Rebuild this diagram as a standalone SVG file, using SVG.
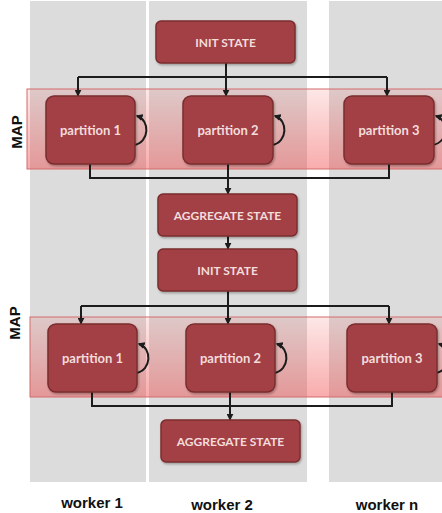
<svg xmlns="http://www.w3.org/2000/svg" width="442" height="513" viewBox="0 0 442 513">
  <defs>
    <linearGradient id="bandFill" x1="0" y1="0" x2="0" y2="1">
      <stop offset="0" stop-color="#f03a3a" stop-opacity="0.12"/>
      <stop offset="1" stop-color="#f03a3a" stop-opacity="0.42"/>
    </linearGradient>
    <filter id="shadow" x="-10%" y="-10%" width="130%" height="140%">
      <feDropShadow dx="1" dy="1.5" stdDeviation="1.2" flood-color="#000" flood-opacity="0.3"/>
    </filter>
    <marker id="arrow" viewBox="0 0 10 10" refX="9" refY="5" markerWidth="7" markerHeight="7" markerUnits="userSpaceOnUse" orient="auto">
      <path d="M0,0 L10,5 L0,10 Z" fill="#1c1c1c"/>
    </marker>
    <marker id="loopArrow" viewBox="0 0 10 10" refX="8" refY="5" markerWidth="7" markerHeight="7" markerUnits="userSpaceOnUse" orient="auto">
      <path d="M0,0 L10,5 L0,10 Z" fill="#1c1c1c"/>
    </marker>
  </defs>
  <style>
    .col { fill: #dcdcdc; }
    .band { fill: url(#bandFill); stroke: #d46a6c; stroke-width: 1; }
    .box { fill: #a34044; stroke: #7b2b2e; stroke-width: 1.5; filter: url(#shadow); }
    .lbl { font-family: Lato, "Open Sans", "Liberation Sans", sans-serif; font-weight: bold; fill: #f2dcdc; text-anchor: middle; }
    .state { font-size: 12px; }
    .part { font-size: 13px; }
    .edge { fill: none; stroke: #1c1c1c; stroke-width: 2; }
    .arr { marker-end: url(#arrow); }
    .loop { fill: none; stroke: #1c1c1c; stroke-width: 2; marker-end: url(#loopArrow); }
    .axis { font-family: "Liberation Sans", Arial, sans-serif; font-weight: bold; font-size: 15px; fill: #111; text-anchor: middle; }
  </style>

  <rect width="442" height="513" fill="#ffffff"/>

  <!-- worker lanes -->
  <g id="lanes">
    <rect class="col" x="30" y="1" width="116" height="481"/>
    <rect class="col" x="149" y="1" width="158" height="481"/>
    <rect class="col" x="329" y="1" width="113" height="481"/>
  </g>

  <!-- map phase bands -->
  <g id="map-bands">
    <rect class="band" x="27" y="89" width="420" height="80"/>
    <rect class="band" x="30" y="317" width="417" height="80"/>
  </g>

  <g id="map-label-1"><text class="axis" transform="translate(22,132) rotate(-90)">MAP</text></g>
  <g id="map-label-2"><text class="axis" transform="translate(20,323) rotate(-90)">MAP</text></g>

  <!-- connectors -->
  <g id="connectors">
    <!-- init 1 fan-out -->
    <path class="edge" d="M226,63 V77 M78,77 H387"/>
    <path class="edge arr" d="M78,77 V96"/>
    <path class="edge arr" d="M226,77 V96"/>
    <path class="edge arr" d="M387,77 V96"/>
    <!-- partitions 1 fan-in -->
    <path class="edge" d="M90,164 V178 H389 V164 M228,164 V178"/>
    <path class="edge arr" d="M228,178 V194"/>
    <path class="edge arr" d="M228,236 V249"/>
    <!-- init 2 fan-out -->
    <path class="edge" d="M228,291 V306 M81,306 H389"/>
    <path class="edge arr" d="M81,306 V324"/>
    <path class="edge arr" d="M228,306 V324"/>
    <path class="edge arr" d="M389,306 V324"/>
    <!-- partitions 2 fan-in -->
    <path class="edge" d="M92,392 V406 H392 V392 M230,392 V406"/>
    <path class="edge arr" d="M230,406 V420"/>
    <!-- self loops -->
    <path class="loop" d="M134,145 C150,142 150,120 137,116"/>
    <path class="loop" d="M272,145 C288,142 288,120 275,116"/>
    <path class="loop" d="M433,145 C449,142 449,120 436,116"/>
    <path class="loop" d="M136,373 C152,370 152,348 139,344"/>
    <path class="loop" d="M274,373 C290,370 290,348 277,344"/>
    <path class="loop" d="M436,373 C452,370 452,348 439,344"/>
  </g>

  <g id="init-state-1">
    <rect class="box" x="156" y="21" width="139" height="42" rx="5"/>
    <text class="lbl state" x="225.5" y="47">INIT STATE</text>
  </g>
  <g id="partition-1a">
    <rect class="box" x="46" y="96" width="89" height="68" rx="8"/>
    <text class="lbl part" x="90.5" y="135">partition 1</text>
  </g>
  <g id="partition-2a">
    <rect class="box" x="183" y="96" width="90" height="68" rx="8"/>
    <text class="lbl part" x="228" y="135">partition 2</text>
  </g>
  <g id="partition-3a">
    <rect class="box" x="344" y="96" width="90" height="68" rx="8"/>
    <text class="lbl part" x="389" y="135">partition 3</text>
  </g>
  <g id="aggregate-state-1">
    <rect class="box" x="158" y="194" width="139" height="42" rx="5"/>
    <text class="lbl state" x="227.5" y="220">AGGREGATE STATE</text>
  </g>
  <g id="init-state-2">
    <rect class="box" x="158" y="249" width="139" height="42" rx="5"/>
    <text class="lbl state" x="227.5" y="275">INIT STATE</text>
  </g>
  <g id="partition-1b">
    <rect class="box" x="48" y="324" width="89" height="68" rx="8"/>
    <text class="lbl part" x="92.5" y="363">partition 1</text>
  </g>
  <g id="partition-2b">
    <rect class="box" x="186" y="324" width="89" height="68" rx="8"/>
    <text class="lbl part" x="230.5" y="363">partition 2</text>
  </g>
  <g id="partition-3b">
    <rect class="box" x="347" y="324" width="90" height="68" rx="8"/>
    <text class="lbl part" x="392" y="363">partition 3</text>
  </g>
  <g id="aggregate-state-2">
    <rect class="box" x="161" y="420" width="139" height="42" rx="5"/>
    <text class="lbl state" x="230.5" y="446">AGGREGATE STATE</text>
  </g>

  <!-- worker captions -->
  <g id="worker-labels">
    <text class="axis" x="92" y="508">worker 1</text>
    <text class="axis" x="222" y="510">worker 2</text>
    <text class="axis" x="387" y="510">worker n</text>
  </g>
</svg>
